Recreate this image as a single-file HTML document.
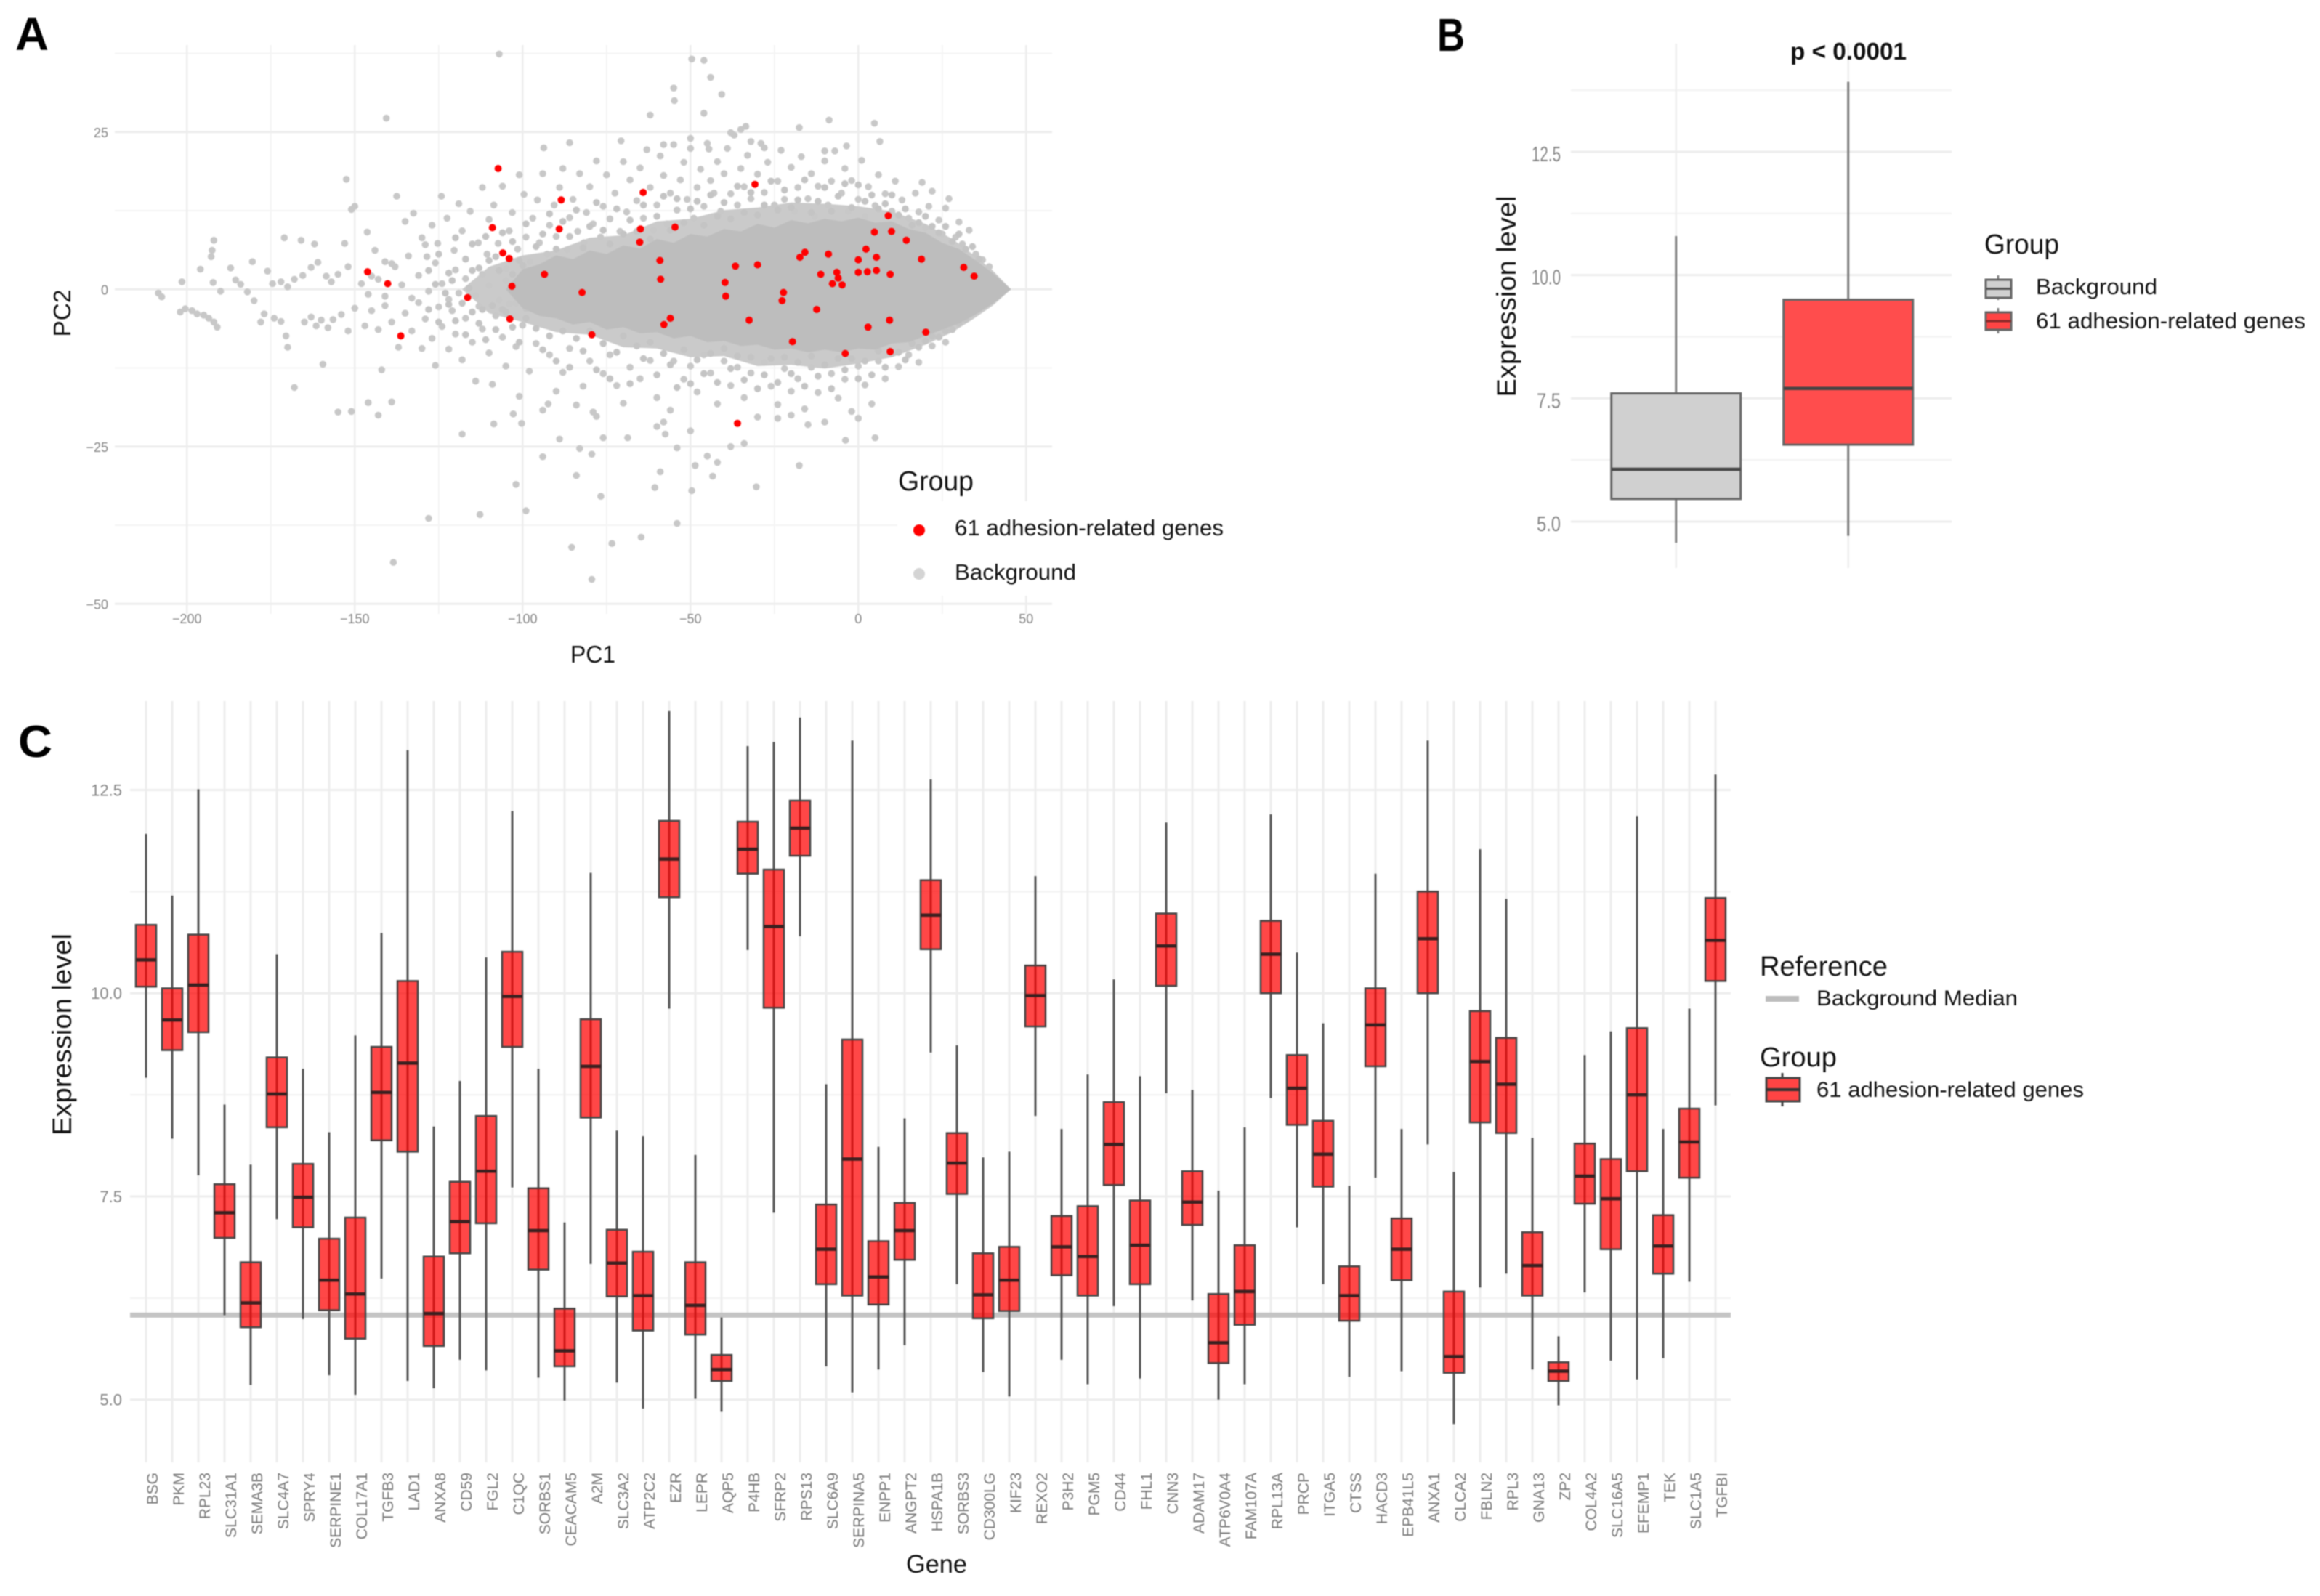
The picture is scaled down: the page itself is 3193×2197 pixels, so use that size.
<!DOCTYPE html>
<html lang="en">
<head>
<meta charset="utf-8">
<title>Adhesion-related genes: PCA and expression levels</title>
<style>
html,body{margin:0;padding:0;background:#fff;width:3193px;height:2197px;overflow:hidden}
svg{display:block;filter:blur(.7px)}
text{font-family:"Liberation Sans",sans-serif;fill:#111}
.tick{fill:#858585}
.gene{fill:#777}
.panel{font-weight:bold;fill:#000}
</style>
</head>
<body>
<svg id="fig" xmlns="http://www.w3.org/2000/svg" width="3193" height="2197" viewBox="0 0 3193 2197">
  <rect width="3193" height="2197" fill="#fff"/>
  <g id="panelA"></g>
  <g id="panelB"></g>
  <g id="panelC"></g>

  <text class="panel" x="21" y="69" font-size="64" textLength="46" lengthAdjust="spacingAndGlyphs">A</text>
  <text class="panel" x="1978" y="70" font-size="64" textLength="38" lengthAdjust="spacingAndGlyphs">B</text>
  <text class="panel" x="25" y="1042" font-size="62" textLength="47" lengthAdjust="spacingAndGlyphs">C</text>

  <text x="785" y="912" font-size="33" textLength="62" lengthAdjust="spacingAndGlyphs">PC1</text>
  <text transform="translate(97,431) rotate(-90)" text-anchor="middle" font-size="33" textLength="65" lengthAdjust="spacingAndGlyphs">PC2</text>

  <text x="2464" y="82" font-size="33" font-weight="bold" fill="#000" textLength="160" lengthAdjust="spacingAndGlyphs">p &lt; 0.0001</text>
  <text transform="translate(2086,408) rotate(-90)" text-anchor="middle" font-size="37" textLength="277" lengthAdjust="spacingAndGlyphs">Expression level</text>

  <text transform="translate(98,1424) rotate(-90)" text-anchor="middle" font-size="37" textLength="278" lengthAdjust="spacingAndGlyphs">Expression level</text>
  <text x="1247" y="2165" font-size="35" textLength="84" lengthAdjust="spacingAndGlyphs">Gene</text>

  <g>
    <rect x="1235" y="690" width="215" height="130" fill="#fff"/>
    <text x="1236" y="675" font-size="38" textLength="104" lengthAdjust="spacingAndGlyphs">Group</text>
    <circle cx="1265" cy="730" r="8" fill="#f00"/>
    <text x="1314" y="737" font-size="31" textLength="370" lengthAdjust="spacingAndGlyphs">61 adhesion-related genes</text>
    <circle cx="1265" cy="790" r="8" fill="#d4d4d4"/>
    <text x="1314" y="798" font-size="31" textLength="167" lengthAdjust="spacingAndGlyphs">Background</text>
  </g>

  <g>
    <text x="2731" y="349" font-size="38" textLength="103" lengthAdjust="spacingAndGlyphs">Group</text>
    <line x1="2750" x2="2750" y1="379" y2="413" stroke="#777" stroke-width="2.5"/>
    <rect x="2733" y="385" width="35" height="25" fill="#d0d0d0" stroke="#666" stroke-width="3"/>
    <line x1="2733" x2="2768" y1="397.5" y2="397.5" stroke="#555" stroke-width="3"/>
    <text x="2802" y="405" font-size="31" textLength="167" lengthAdjust="spacingAndGlyphs">Background</text>
    <line x1="2750" x2="2750" y1="424" y2="459" stroke="#777" stroke-width="2.5"/>
    <rect x="2733" y="430" width="35" height="24" fill="#ff4444" stroke="#666" stroke-width="3"/>
    <line x1="2733" x2="2768" y1="442" y2="442" stroke="#8a2a2a" stroke-width="3"/>
    <text x="2802" y="452" font-size="31" textLength="371" lengthAdjust="spacingAndGlyphs">61 adhesion-related genes</text>
  </g>

  <g>
    <text x="2422" y="1343" font-size="38" textLength="176" lengthAdjust="spacingAndGlyphs">Reference</text>
    <rect x="2430" y="1371" width="46" height="8" fill="#bdbdbd"/>
    <text x="2500" y="1384" font-size="30" textLength="277" lengthAdjust="spacingAndGlyphs">Background Median</text>
    <text x="2422" y="1468" font-size="38" textLength="106" lengthAdjust="spacingAndGlyphs">Group</text>
    <line x1="2453" x2="2453" y1="1477" y2="1523" stroke="#444" stroke-width="3"/>
    <rect x="2431" y="1484" width="46" height="32" fill="#ff4444" stroke="#444" stroke-width="3"/>
    <line x1="2431" x2="2477" y1="1500" y2="1500" stroke="#333" stroke-width="4"/>
    <text x="2500" y="1510" font-size="30" textLength="368" lengthAdjust="spacingAndGlyphs">61 adhesion-related genes</text>
  </g>
</svg>

<script>
// ---------- Panel A data ----------
const pcaXTicks = [-200,-150,-100,-50,0,50];
const pcaXMinor = [-175,-125,-75,-25,25];
const pcaYTicks = [-50,-25,0,25];
const pcaYMinor = [-37.5,-12.5,12.5,37.5];
const adhesionPoints = [
[-107.3,19.2],[-30.8,16.7],[-64.1,15.4],[-88.5,14.2],[8.9,11.7],[-109,9.8],[-89.1,9.6],[-64.9,9.6],[-54.6,9.9],[4.8,9.1],[9.9,9.2],[14.3,7.8],[-65.1,7.5],[2.3,6.4],[-105.9,5.8],[-15.9,5.9],[-17.4,5.1],[-8.9,5.6],[-104,4.9],[-59.1,4.6],[0,4.7],[5.4,5.1],[18.8,4.8],[-36.6,3.7],[-30,3.9],[31.4,3.5],[34.5,2.1],[-146.2,2.8],[5.4,3],[0,2.7],[2.7,2.8],[-6.4,2.7],[-11.2,2.4],[9.5,2.4],[-93.5,2.4],[-6,1.8],[-58.9,1.6],[-140.2,0.9],[-39.7,1.1],[-7.7,0.9],[-4.8,0.7],[-103.2,0.5],[-82.3,-0.5],[-22.3,-0.5],[-116.4,-1.3],[-39.5,-1.1],[-22.7,-1.8],[-12.4,-3.2],[-103.8,-4.7],[-56,-4.6],[-32.5,-4.9],[9.3,-4.9],[-57.9,-5.6],[2.9,-6],[20.1,-6.8],[-79.4,-7.2],[-136.3,-7.4],[-19.6,-8.3],[-3.9,-10.2],[9.5,-9.9],[-36,-21.3]];
const denseCorePC1 = [-105,-100,-95,-90,-85,-80,-75,-70,-65,-60,-55,-50,-45,-40,-35,-30,-25,-20,-15,-10,-5,0,5,10,15,20,25,30,35,40,45.5];
const denseCoreTop = [0,3.2,4,5.4,4.8,6.2,5.6,7,6.5,8,7.4,8.8,8.4,9.6,9.2,10.4,9.8,11,10.5,11.2,10.8,11.4,10.6,10.8,9.6,9,7.4,6.4,4.6,2.6,0];
const denseCoreBottom = [0,-3,-4.2,-4.6,-5.6,-5.2,-6.4,-6,-7,-6.8,-7.8,-7.4,-8.4,-8.2,-9,-8.8,-9.6,-9.4,-10,-9.6,-10,-9.4,-9.6,-8.6,-8.4,-7.4,-6.4,-5.4,-4,-2.3,0];
const sparseZonePC1 = [-118,-110,-100,-90,-80,-70,-60,-50,-40,-30,-20,-10,0,10,20,28,34,40,45.5];
const sparseZoneTop = [0,3.6,5.4,6.2,8.2,8.6,10.8,11.2,12.6,13,13.8,13.6,13.2,12.4,10.4,8,5.6,3,0];
const sparseZoneBottom = [0,-3.8,-5.2,-6.8,-7.2,-9.2,-9.4,-10.8,-10.6,-12.2,-12,-12.6,-11.8,-10.8,-8.8,-6.8,-4.8,-2.6,0];
const backgroundPoints = [
// far left
[-208.5,-0.6],[-207.5,-1.2],[-202,-3.6],[-200.5,-3.1],[-198.5,-3.4],[-197,-3.9],[-195,-4.1],[-193.5,-4.6],[-192,-5.2],[-191,-6],[-201.5,1.2],[-196,3.2],[-192.8,5.2],[-192.5,6.2],[-192,7.8],[-192.2,1.1],[-190,-0.3],[-187,3.4],[-185.5,1.5],[-184,0.8],[-182,-0.4],[-180,-1.8],[-180.5,4.4],[-176,2.9],[-174.5,0.9],[-172,1.2],[-171,8.2],[-170,0.4],[-168,1.6],[-166,7.8],[-165.5,2.2],[-163,3.5],[-162,7.2],[-161,4.3],[-158.5,2.1],[-157,1.2],[-155,2.4],[-153,7.3],[-152,3.6],[-151,12.7],[-148,0.9],[-146.3,9.1],[-145,2.1],[-144,6.2],[-141,4.4],[-139,4.1],
// lower left
[-178,-5.2],[-177,-3.9],[-174,-4.6],[-172,-5.1],[-170.5,-7.4],[-170,-9.2],[-168,-15.6],[-165,-5.2],[-163,-4.4],[-161.5,-5.8],[-160,-4.9],[-158,-6.1],[-156.5,-4.8],[-154,-4],[-152,-6.6],[-150,-3],[-159.5,-11.9],[-155,-19.5],[-151,-19.4],[-146,-18],[-143,-20],[-142,-12.8],[-139,-17.9],[-147,-5.8],[-145,-3.4],[-143,-6.4],[-141,-2.6],[-139,-5.2],[-137,-9.2],[-135,-3.8],[-133,-6.6],[-131,-2.1],[-130,-9.4],[-129,-4.7],[-127,-7.8],[-126,-12.1],[-125,-2.8],[-124,-5.9],[-122,-9.5],[-121,-3.4],[-120,-7.1],[-118,-11.2],[-117,-4.6],[-115,-8.4],[-114,-14.6],[-113,-2.7],[-112,-6.3],[-110,-10.1],[-109,-15.1],[-108,-4.2],[-106,-7.6],[-105,-12.2],[-104,-2.3],[-102,-9.1],[-101,-17],[-100,-5.7],[-98,-13],
[-146,-0.8],[-143,1.6],[-141,-1.1],[-138,3.6],[-136,0.7],[-134,5.3],[-133,-1.4],[-131,2.2],[-129,7.1],[-128,-0.3],[-126,4.2],[-124,0.9],[-122,-1.6],[-120,3.1],[-119,-0.6],[-117,1.7],[-114,-1],[-112,2.4],[-110,0.6],[-107,-1.7],[-105,1.4],[-102,-2.2],[-100,2.1],[-97,-0.8],
// upper left and mid
[-140.6,27.2],[-152.5,17.5],[-150,13.2],[-137.5,14.8],[-135,10.8],[-132.5,12.1],[-130,8.2],[-128.5,5.2],[-127,10.2],[-125.3,7.3],[-124.2,14.8],[-122.5,11.3],[-120.4,6.2],[-119,13.6],[-118,9.3],[-115.6,12.4],[-113.2,7.4],[-112,16.2],[-110.6,5.6],[-110,11.1],[-108.6,13.4],[-107.3,7.3],[-106,16.4],[-104.8,3.3],[-104,9.3],[-103.1,12.2],[-101.5,6.4],[-101,18.2],[-99.6,15.1],[-99,8.3],[-97.8,4.4],[-97,11.3],[-95.6,14.2],[-95,7.4],[-94,18.4],[-92.7,5.6],[-92,10.2],[-90.6,13.4],[-90,8.4],[-89,16.2],[-88,19.2],[-86.7,6.3],[-86,11.4],[-85,14.3],[-83.6,9.2],[-83,18.4],[-81.7,7.4],[-81,12.2],[-80,16.3],[-79,10.4],[-78,20.4],[-76.8,8.3],[-76,13.2],[-75,18.2],[-74,11.2],[-72.5,15.3],[-71,9.2],[-70,20.3],[-69,12.3],[-68,17.4],[-66,14.1],[-65,19.3],[-64,11.3],[-63,22.2],[-62,16.2],[-61,9.4],[-60,13.4],[-59,21.2],[-58,18.1],[-57,10.4],[-56,15.3],[-55,23],[-54,12.6],[-53,17.4],[-52,20.2],[-51,14.3],[-50,22.4],[-49,11.3],[-48,16.2],[-47,19.1],[-46,13.2],[-45,23.2],[-44,17.3],[-43,15.3],[-42,20.3],[-41,12.4],[-40,18.4],[-39,22.4],[-38,15.2],[-37,24.5],[-36,13.4],[-35,19.2],[-34,16.3],[-33,21.3],[-32,14.4],[-30,18.3],[-29,23.2],[-28,15.4],[-27,20.2],[-25,13.4],[-24,17.2],[-23,22.1],[-22,14.3],[-20,19.4],[-19,12.4],[-18,16.2],[-17,21.1],[-15,14.4],[-14,18.4],[-13,11.6],[-12,16.4],[-10,20.4],[-9,13.4],[-8,17.2],[-7,22],[-5,15.3],[-4,19.2],[-3,12.4],[-2,17.3],[0,14.3],[1,20.5],[2,11.6],[3,16.3],[5,13.3],[6,18.2],[8,15.2],[10,12.4],[11,17.2],[13,14.2],[15,11.3],[17,15.3],[18,12.3],[19,17],[20,9.8],[21,13.2],[22,15.6],[24,11],[25,8.8],[26,12.9],[27,14.4],[29,8.3],[30,10.7],[31,7.2],[33,9.4],[35,5.6],[37,4.7],[39,3.6],[40.5,1.9],
// top outliers
[-107,37.4],[-49.6,36.6],[-46,36.4],[-44,33.7],[-55,32],[-54.8,30],[-40.7,31],[-46,28],[-62,27.7],[4.8,26.4],[-8.7,26.9],[-17.6,25.7],[-33.5,25.9],[-35,25.4],[-38,24.9],[-70.7,23.6],[-86,23.3],[-93.7,22.5],[6.4,23.5],[-3.5,22.8],[-50,24],[-58,23],[-44.5,22.3],[-32,23.5],[-28,22.5],[-10,22],
// right lower
[-55,-11.4],[-52,-14.3],[-50,-12.2],[-48,-16.3],[-46,-10.4],[-44,-13.3],[-42,-18.2],[-40,-11.4],[-38,-15.3],[-36,-12.4],[-34,-17.2],[-32,-13.3],[-30,-20.3],[-28,-11.6],[-26,-15.4],[-24,-18.3],[-22,-12.6],[-20,-16.2],[-18,-14.2],[-16,-19],[-14,-12.4],[-12,-16.4],[-10,-21.1],[-8,-13.4],[-6,-17.3],[-4,-14.3],[-2,-19.4],[0,-12.2],[2,-15.2],[4,-18.2],[6,-11.4],[8,-14.2],[12,-12.3],[15,-10.4],[18,-11.6],[22,-9],[26,-8.4],[-62,-11.3],[-60,-17.2],[-58,-21.1],[-56,-19.2],[-65,-14.2],[-68,-12.4],[-70,-18.1],[-72,-15.3],[-74,-10.4],[-76,-13.4],[-78,-20.2],[-80,-11.4],[-82,-15.4],[-84,-18.4],[-86,-9.4],[-88,-13.2],[-90,-16.2],[-92,-10.4],[-94,-19.2],[-96,-8.6],
// lower outliers
[-17.6,-28],[-30.4,-31.4],[-43.4,-29.7],[-48.6,-28],[-49.6,-32],[-60.6,-31.5],[-59,-29],[-54,-37.2],[-64.7,-39.4],[-73.4,-40.4],[-85.4,-41],[-79.4,-46.1],[-138.5,-43.4],[-128,-36.4],[-112.7,-35.8],[-99,-35.2],[-102,-31],[-76.7,-32.9],[-84,-29.6],[-94,-26.6],[-89,-23.8],[-83,-25.3],[-79.4,-26.2],[-76,-23.6],[-68.7,-23.6],[-118,-23],[-108.6,-21.4],[-100.3,-21.3],[-102.8,-19.8],[-92.4,-18.2],[-79,-19.5],[-54,-25.2],[-45,-26.5],[-42,-27.5],[-38,-25],[-34,-24.5],[-3.8,-24],[5,-23.6],[0,-20.5],[-15,-21.5],[-20,-20],[-24,-20.5],[-60,-21.8],[-57.5,-23],[-50,-22.5]];
const backgroundFringePoints = [
// upper fringe of the central cloud
[-128,3],[-125,5.6],[-122,2.6],[-120,8.2],[-117,4.8],[-115,7.2],[-113,3.4],[-111,8.4],[-108,5.2],[-106,9],[-103,7.6],[-101,4.6],[-99,10.4],[-96,6.8],[-94,8.8],[-92,12],[-90,6.4],[-88,10.8],[-86,8.4],[-84,12.6],[-82,6.6],[-80,10],[-78,13.8],[-76,9.4],[-74,7.2],[-72,12.8],[-70,8.8],[-68,11],[-66,9.2],[-64,13.4],[-62,8],[-60,11.6],[-58,14.8],[-56,9.4],[-54,14.4],[-52,10.6],[-50,12.8],[-48,14],[-46,10.2],[-44,15],[-42,11.6],[-40,13.8],[-38,11.2],[-36,16.4],[-34,12.2],[-32,15.4],[-30,11.8],[-28,13.4],[-26,17.2],[-24,12.6],[-22,15.8],[-20,13],[-18,14.2],[-16,17.4],[-14,12.2],[-12,14],[-10,16.2],[-8,12.4],[-6,14.8],[-4,16.8],[-2,13],[0,16.6],[2,14],[4,15],[6,12.8],[8,13.6],[10,15],[12,11.8],[14,12.8],[16,10.2],[18,10.6],[20,11.6],[22,10],[24,9],[26,10],[28,7.6],[30,8.8],[32,6.4],[34,6.8],[36,4.8],
// lower fringe of the central cloud
[-128,-3.2],[-125,-5.2],[-122,-2.4],[-120,-5],[-117,-7.2],[-115,-3.6],[-113,-5.4],[-111,-8],[-108,-6.4],[-106,-3.2],[-103,-6],[-101,-8.4],[-99,-4.6],[-96,-6.2],[-94,-9.6],[-92,-7.4],[-90,-11.4],[-88,-6.6],[-86,-12.4],[-84,-7.8],[-82,-9.8],[-80,-6.6],[-78,-12.8],[-76,-8.6],[-74,-14.2],[-72,-10],[-70,-7.4],[-68,-15],[-66,-9],[-64,-11],[-62,-8.4],[-60,-13.6],[-58,-10.2],[-56,-12],[-54,-15.6],[-52,-9.6],[-50,-15],[-48,-11.2],[-46,-13.4],[-44,-10.2],[-42,-14.8],[-40,-9.4],[-38,-12.6],[-36,-10.6],[-34,-14.4],[-32,-10.8],[-30,-15.8],[-28,-13.6],[-26,-11],[-24,-14.8],[-22,-10.8],[-20,-13.4],[-18,-11.6],[-16,-15.4],[-14,-10.6],[-12,-13.8],[-10,-12],[-8,-15.8],[-6,-11],[-4,-12.8],[-2,-11],[0,-14.2],[2,-11.4],[4,-13.6],[6,-9.8],[8,-12.4],[10,-10.2],[12,-10],[14,-11.2],[16,-8.6],[18,-9.2],[20,-8.2],[22,-7.4],[24,-7.6],[26,-6.6],[28,-6.4],[30,-5.4],[32,-4.8],[34,-3.6],
// left-hand cloud
[-126,0.8],[-123,-0.6],[-121,1.4],[-118,-2.2],[-116,0.2],[-115,3],[-112,-3.2],[-110,4.6],[-109,-2.6],[-107,3],[-105,-3.6],[-103,2.4],[-101,-0.8],[-100,3.8],[-99,-3],[-98,1.8]];

// ---------- Panel B data ----------
const overallGroups = ["Background","61 adhesion-related genes"];
const overallWhiskerHigh = [10.79,13.92];
const overallQ3 = [7.60,9.50];
const overallMedian = [6.06,7.70];
const overallQ1 = [5.46,6.56];
const overallWhiskerLow = [4.57,4.71];
const overallFills = ["#d0d0d0","#ff4d4d"];
const overallYTicks = [5,7.5,10,12.5];
const overallYTickLabels = ["5.0","7.5","10.0","12.5"];
const overallYMinor = [6.25,8.75,11.25,13.75];

// ---------- Panel C data ----------
const geneNames = ["BSG","PKM","RPL23","SLC31A1","SEMA3B","SLC4A7","SPRY4","SERPINE1","COL17A1","TGFB3","LAD1","ANXA8","CD59","FGL2","C1QC","SORBS1","CEACAM5","A2M","SLC3A2","ATP2C2","EZR","LEPR","AQP5","P4HB","SFRP2","RPS13","SLC6A9","SERPINA5","ENPP1","ANGPT2","HSPA1B","SORBS3","CD300LG","KIF23","REXO2","P3H2","PGM5","CD44","FHL1","CNN3","ADAM17","ATP6V0A4","FAM107A","RPL13A","PRCP","ITGA5","CTSS","HACD3","EPB41L5","ANXA1","CLCA2","FBLN2","RPL3","GNA13","ZP2","COL4A2","SLC16A5","EFEMP1","TEK","SLC1A5","TGFBI"];
const geneWhiskerHigh = [11.96,11.20,12.51,8.63,7.89,10.48,9.07,8.29,9.48,10.74,12.99,8.36,8.92,10.44,12.24,9.07,7.18,11.48,8.31,8.24,13.47,8.01,6.01,13.04,13.09,13.39,8.88,13.11,8.11,8.46,12.63,9.36,7.98,8.05,11.44,8.33,9.00,10.17,8.98,12.10,8.81,7.57,8.35,12.20,10.50,9.63,7.63,11.47,8.33,13.11,7.80,11.77,11.16,8.22,5.78,9.24,9.53,12.18,8.33,9.81,12.69];
const geneQ3 = [10.84,10.06,10.72,7.65,6.69,9.21,7.90,6.98,7.24,9.34,10.15,6.76,7.68,8.49,10.51,7.60,6.12,9.68,7.09,6.82,12.12,6.69,5.55,12.11,11.52,12.37,7.40,9.43,6.95,7.42,11.39,8.28,6.80,6.88,10.34,7.26,7.38,8.66,7.45,10.98,7.81,6.30,6.90,10.89,9.24,8.43,6.64,10.06,7.23,11.25,6.33,9.78,9.45,7.06,5.46,8.15,7.96,9.57,7.27,8.58,11.17];
const geneMedian = [10.41,9.67,10.10,7.30,6.19,8.76,7.49,6.47,6.30,8.78,9.14,6.06,7.19,7.81,9.96,7.08,5.60,9.10,6.68,6.28,11.65,6.16,5.37,11.77,10.82,12.03,6.85,7.96,6.51,7.08,10.96,7.91,6.29,6.47,9.97,6.88,6.76,8.14,6.90,10.58,7.43,5.70,6.33,10.48,8.83,8.02,6.28,9.61,6.85,10.67,5.53,9.16,8.88,6.65,5.35,7.75,7.47,8.75,6.89,8.17,10.65];
const geneQ1 = [10.08,9.30,9.52,6.99,5.89,8.35,7.12,6.10,5.75,8.19,8.05,5.66,6.80,7.17,9.34,6.60,5.41,8.47,6.27,5.85,11.18,5.80,5.23,11.47,9.82,11.69,6.42,6.28,6.17,6.72,10.54,7.53,6.00,6.09,9.59,6.53,6.28,7.64,6.42,10.09,7.15,5.45,5.92,10.00,8.38,7.62,5.97,9.10,6.47,10.00,5.33,8.41,8.28,6.28,5.23,7.41,6.85,7.81,6.55,7.73,10.15];
const geneWhiskerLow = [8.96,8.21,7.76,6.04,5.18,7.22,5.99,5.30,5.06,6.49,5.23,5.14,5.49,5.36,7.61,5.27,4.99,6.67,5.21,4.89,9.81,5.01,4.85,10.53,7.30,10.70,5.41,5.09,5.37,5.67,9.27,6.42,5.34,5.04,8.49,5.49,5.19,6.15,5.26,8.77,6.22,5.00,5.19,8.71,7.12,6.42,5.28,7.73,5.35,8.14,4.70,6.38,6.55,5.37,4.93,6.32,5.48,5.25,5.51,6.45,8.62];
const geneYTicks = [5,7.5,10,12.5];
const geneYTickLabels = ["5.0","7.5","10.0","12.5"];
const geneYMinor = [6.25,8.75,11.25];
const backgroundMedian = 6.04;

// ---------- helpers ----------
const NS = "http://www.w3.org/2000/svg";
function make(parent, tag, attrs, name, text) {
  const el = document.createElementNS(NS, tag);
  for (const k in attrs) el.setAttribute(k, attrs[k]);
  
  
  if (text !== undefined) el.textContent = text;
  parent.appendChild(el);
  return el;
}
function hLine(p, x1, x2, y, stroke, w, name) {
  return make(p, 'line', {x1:x1, x2:x2, y1:y, y2:y, stroke:stroke, 'stroke-width':w}, name);
}
function vLine(p, x, y1, y2, stroke, w, name) {
  return make(p, 'line', {x1:x, x2:x, y1:y1, y2:y2, stroke:stroke, 'stroke-width':w}, name);
}
const MAJOR = "#ededed", MINOR = "#f4f4f4";

// ---------- Panel A ----------
(function () {
  const g = document.getElementById('panelA');
  const sx = v => 1181.3 + v * 4.62;
  const sy = v => 398.3 - v * 8.66;
  const L = 158, R = 1448, T = 62, B = 845;
  pcaXMinor.forEach(v => vLine(g, sx(v), T, B, MINOR, 2, 'pca-x-minor-gridline'));
  pcaYMinor.forEach(v => hLine(g, L, R, sy(v), MINOR, 2, 'pca-y-minor-gridline'));
  pcaXTicks.forEach(v => vLine(g, sx(v), T, B, MAJOR, 2.5, 'pca-x-gridline'));
  pcaYTicks.forEach(v => hLine(g, L, R, sy(v), MAJOR, 3, 'pca-y-gridline'));
  pcaXTicks.forEach(v => make(g, 'text', {x:sx(v), y:858, 'text-anchor':'middle', 'font-size':18, class:'tick'}, 'pca-x-tick-label', String(v).replace('-', '\u2212')));
  pcaYTicks.forEach(v => make(g, 'text', {x:149, y:sy(v) + 7, 'text-anchor':'end', 'font-size':18, class:'tick'}, 'pca-y-tick-label', String(v).replace('-', '\u2212')));

  function band(pc1, top, bottom) {
    const up = pc1.map((v, i) => sx(v).toFixed(1) + ',' + sy(top[i]).toFixed(1));
    const dn = pc1.map((v, i) => sx(v).toFixed(1) + ',' + sy(bottom[i]).toFixed(1)).reverse();
    return up.concat(dn).join(' ');
  }
  make(g, 'polygon', {points:band(sparseZonePC1, sparseZoneTop, sparseZoneBottom), fill:'#cacaca'}, 'background-sparse-zone');
  backgroundPoints.forEach(p => make(g, 'circle', {cx:sx(p[0]).toFixed(1), cy:sy(p[1]).toFixed(1), r:4.8, fill:'#c8c8c8'}, 'background-gene-point'));
  backgroundFringePoints.forEach(p => make(g, 'circle', {cx:sx(p[0]).toFixed(1), cy:sy(p[1]).toFixed(1), r:4.8, fill:'#c4c4c4'}, 'background-gene-point'));
  make(g, 'polygon', {points:band(denseCorePC1, denseCoreTop, denseCoreBottom), fill:'#bdbdbd'}, 'background-dense-core');
  adhesionPoints.forEach(p => make(g, 'circle', {cx:sx(p[0]).toFixed(1), cy:sy(p[1]).toFixed(1), r:5, fill:'#f00'}, 'adhesion-gene-point'));
})();

// ---------- Panel B ----------
(function () {
  const g = document.getElementById('panelB');
  const sy = v => 718 - (v - 5) * 67.87;
  const xPos = [2306.7, 2543.7];
  const halfW = 89;
  const L = 2162, R = 2686, T = 60, B = 782;
  overallYMinor.forEach(v => hLine(g, L, R, sy(v), MINOR, 2.5, 'overall-y-minor-gridline'));
  overallYTicks.forEach(v => hLine(g, L, R, sy(v), MAJOR, 3, 'overall-y-gridline'));
  overallGroups.forEach((n, i) => vLine(g, xPos[i], T, B, MAJOR, 2.5, 'overall-x-gridline'));
  overallYTicks.forEach((v, i) => {
    const lab = overallYTickLabels[i];
    make(g, 'text', {x:2148, y:sy(v) + 13, 'text-anchor':'end', 'font-size':29, class:'tick', textLength:lab.length > 3 ? 40 : 33, lengthAdjust:'spacingAndGlyphs'}, 'overall-y-tick-label', lab);
  });
  overallGroups.forEach((n, i) => {
    const x = xPos[i];
    vLine(g, x, sy(overallWhiskerHigh[i]), sy(overallWhiskerLow[i]), '#777', 3, 'overall-whisker');
    make(g, 'rect', {x:x - halfW, y:sy(overallQ3[i]), width:halfW * 2, height:sy(overallQ1[i]) - sy(overallQ3[i]), fill:overallFills[i], stroke:'#666', 'stroke-width':3}, 'overall-box');
    hLine(g, x - halfW, x + halfW, sy(overallMedian[i]), '#444', 4.5, 'overall-median');
  });
})();

// ---------- Panel C ----------
(function () {
  const g = document.getElementById('panelC');
  const sx = i => 201 + i * 36;
  const sy = v => 1926.7 - (v - 5) * 111.9;
  const L = 179, R = 2382, T = 965, B = 2013;
  const halfW = 14;
  geneYMinor.forEach(v => hLine(g, L, R, sy(v), MINOR, 2.5, 'gene-y-minor-gridline'));
  geneYTicks.forEach(v => hLine(g, L, R, sy(v), MAJOR, 3, 'gene-y-gridline'));
  geneNames.forEach((n, i) => vLine(g, sx(i), T, B, MAJOR, 3, 'gene-x-gridline'));
  geneYTicks.forEach((v, i) => make(g, 'text', {x:168, y:sy(v) + 8, 'text-anchor':'end', 'font-size':22, class:'tick'}, 'gene-y-tick-label', geneYTickLabels[i]));
  hLine(g, L, R, sy(backgroundMedian), '#c4c4c4', 7, 'background-median-line');
  geneNames.forEach((n, i) => {
    const x = sx(i);
    vLine(g, x, sy(geneWhiskerHigh[i]), sy(geneWhiskerLow[i]), '#555', 3, 'gene-whisker-' + n.toLowerCase());
    make(g, 'rect', {x:x - halfW, y:sy(geneQ3[i]), width:halfW * 2, height:sy(geneQ1[i]) - sy(geneQ3[i]), fill:'#f00', 'fill-opacity':.72, stroke:'#444', 'stroke-width':2.5}, 'gene-box-' + n.toLowerCase());
    hLine(g, x - halfW, x + halfW, sy(geneMedian[i]), '#3a2020', 4.5, 'gene-median-' + n.toLowerCase());
    make(g, 'text', {transform:'translate(' + (x + 16) + ',2027) rotate(-90)', 'text-anchor':'end', 'font-size':21, class:'gene'}, 'gene-tick-label-' + n.toLowerCase(), n);
  });
})();
</script>
</body>
</html>
